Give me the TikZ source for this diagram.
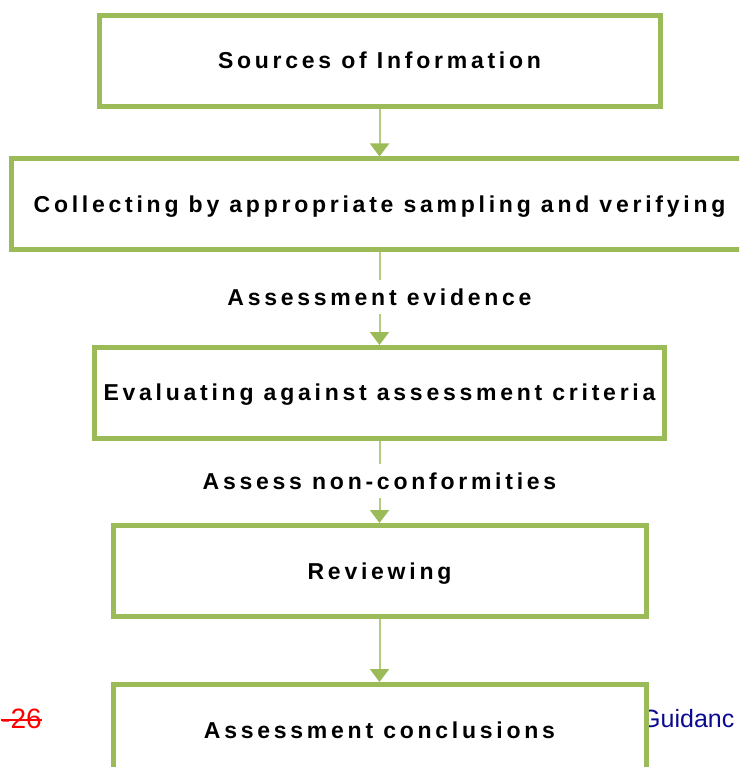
\documentclass[tikz,border=0pt]{standalone}
\usepackage{fontspec}
\setmainfont{Liberation Sans}
\newfontfamily\spacedfont[LetterSpace=16.3]{Liberation Sans}
\usetikzlibrary{arrows.meta}
\definecolor{boxgreen}{HTML}{9BBB59}
\definecolor{arrowgreen}{HTML}{B3CC7F}
\definecolor{guideblue}{HTML}{0A0A90}
\tikzset{
  stepbox/.style={draw=boxgreen, line width=5pt, fill=white, inner sep=0pt,
    minimum height=91pt, text height=16pt, text depth=0pt,
    font=\spacedfont\bfseries\fontsize{23}{27}\selectfont},
  flowlabel/.style={fill=white, inner xsep=4pt, inner ysep=9pt,
    text height=16pt, text depth=0pt,
    font=\spacedfont\bfseries\fontsize{23}{27}\selectfont},
  flowarrow/.style={draw=arrowgreen, line width=2pt,
    -{Triangle[width=19pt,length=13pt,color=boxgreen]}}
}
\begin{document}
\begin{tikzpicture}[x=1pt,y=-1pt]
\useasboundingbox (0,0) rectangle (739,767);
\clip (0,0) rectangle (739,767);
% background texts partly hidden
\node[anchor=base west, inner sep=0pt, text=red, font=\fontsize{28}{32}\selectfont] (pg) at (1,728) {-26};
\draw[red, line width=1.6pt] ([yshift=8pt]pg.base west) -- ([yshift=8pt]pg.base east);
\node[anchor=base west, inner sep=0pt, text=guideblue, font=\fontsize{25}{30}\selectfont] (gd) at (641,727) {Guidanc};
% boxes
\node[stepbox, minimum width=561pt] (b1) at (379.5,60.75) {Sources of Information};
\node[stepbox, minimum width=737pt, minimum height=90pt] (b2) at (379.5,204) {Collecting by appropriate sampling and verifying};
\node[stepbox, minimum width=570pt, minimum height=90.5pt] (b3) at (379.5,392.75) {Evaluating against assessment criteria};
\node[stepbox, minimum width=533pt] (b4) at (379.5,571) {Reviewing};
\node[stepbox, minimum width=533pt] (b5) at (379.5,730) {Assessment conclusions};
% arrows
\draw[flowarrow] (b1.south) -- (b2.north);
\draw[flowarrow] (b2.south) -- (b3.north);
\draw[flowarrow] (b3.south) -- (b4.north);
\draw[flowarrow] (b4.south) -- (b5.north);
% labels on arrows
\node[flowlabel] (l1) at (379.5,297) {Assessment evidence};
\node[flowlabel] (l2) at (379.5,481) {Assess non-conformities};
\end{tikzpicture}
\end{document}
